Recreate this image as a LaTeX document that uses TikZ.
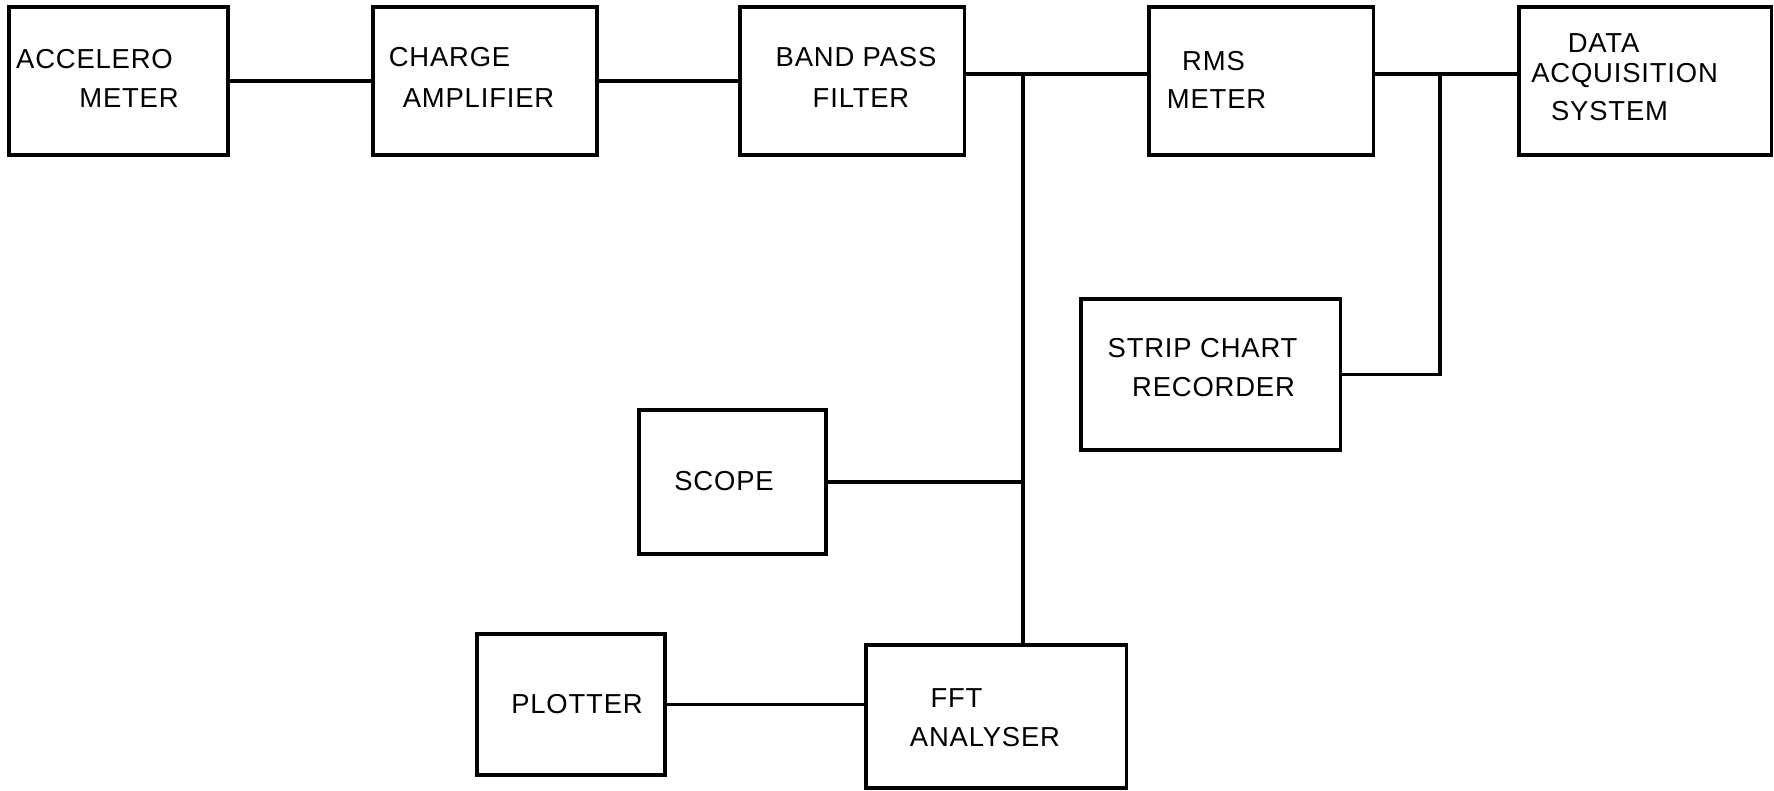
\documentclass[tikz,border=0pt]{standalone}
\usepackage{fontspec}
\setmainfont{Liberation Sans}[LetterSpace=3]
\begin{document}
\begin{tikzpicture}[x=0.01cm, y=-0.01cm, line width=.9pt,
  box/.style={draw, inner sep=0},
  lbl/.style={font=\fontsize{7.8}{10}\selectfont, inner sep=0}]
\useasboundingbox (0,0) rectangle (1774,790);
% top row
\node[box, minimum width=2.19cm, minimum height=1.48cm] (acc) at (118.5,81) {};
\node[box, minimum width=2.24cm, minimum height=1.48cm] (chg) at (485,81) {};
\node[box, minimum width=2.24cm, minimum height=1.48cm] (bpf) at (852,81) {};
\node[box, minimum width=2.24cm, minimum height=1.48cm] (rms) at (1261,81) {};
\node[box, minimum width=2.52cm, minimum height=1.48cm] (das) at (1645,81) {};
% lower boxes
\node[box, minimum width=2.59cm, minimum height=1.51cm] (scr) at (1210.5,374.5) {};
\node[box, minimum width=1.87cm, minimum height=1.44cm] (scope) at (732.5,482) {};
\node[box, minimum width=1.88cm, minimum height=1.41cm] (plot) at (571,704.5) {};
\node[box, minimum width=2.60cm, minimum height=1.43cm] (fft) at (996,716.5) {};
% texts
\node[lbl] (acct1) at (94.5,59) {ACCELERO};
\node[lbl] (acct2) at (129,98) {METER};
\node[lbl] (chgt1) at (449.5,57) {CHARGE};
\node[lbl] (chgt2) at (478.5,98) {AMPLIFIER};
\node[lbl] (bpft1) at (856,57) {BAND PASS};
\node[lbl] (bpft2) at (861,98) {FILTER};
\node[lbl] (rmst1) at (1213.5,61) {RMS};
\node[lbl] (rmst2) at (1216.5,99) {METER};
\node[lbl] (dast1) at (1603.5,43) {DATA};
\node[lbl] (dast2) at (1624.5,76) {ACQUISITION};
\node[lbl] (dast3) at (1609.5,111) {SYSTEM};
\node[lbl] (scrt1) at (1202.5,348) {STRIP CHART};
\node[lbl] (scrt2) at (1213.5,387) {RECORDER};
\node[lbl] (scopet) at (724,481) {SCOPE};
\node[lbl] (plott) at (577,704) {PLOTTER};
\node[lbl] (fftt1) at (956.5,698) {FFT};
\node[lbl] (fftt2) at (985,737) {ANALYSER};
% connections
\coordinate (j1) at (1023,74);
\coordinate (j2) at (1440,74);
\draw (acc) -- (chg);
\draw (chg) -- (bpf);
\draw (bpf.east |- j1) -- (rms.west |- j1);
\draw (rms.east |- j2) -- (das.west |- j2);
\draw (j1) -- (j1 |- fft.north);
\draw (scope.east) -- (scope.east -| j1);
\draw (j2) |- (scr.east);
\draw (plot.east) -- (plot.east -| fft.west);
\end{tikzpicture}
\end{document}
